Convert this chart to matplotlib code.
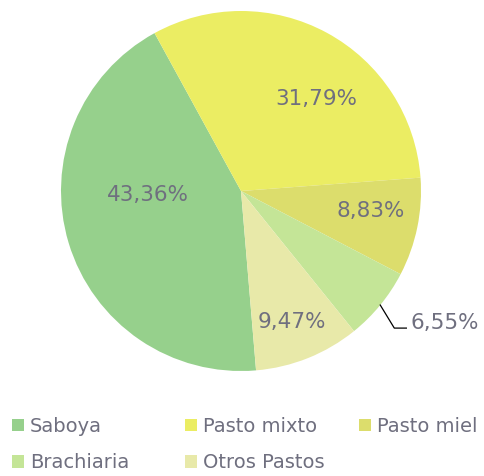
import matplotlib.pyplot as plt
import numpy as np

# datos del grafico
categorias = ["Saboya", "Pasto mixto", "Pasto miel", "Brachiaria", "Otros Pastos"]
porcentajes = [43.36, 31.79, 8.83, 6.55, 9.47]
colores = ["#96d08c", "#ebed63", "#dcdd6c", "#c4e597", "#e8e9a9"]

plt.rcParams['font.family'] = ['DejaVu Sans']
gris = "#6f6f7f"

fig = plt.figure(figsize=(4.85, 4.76), dpi=100)
# ejes cuadrados: centro (241,191) px, radio 180 px
ax = fig.add_axes([61 / 485, (476 - 191 - 180) / 476, 360 / 485, 360 / 476])

wedges, _ = ax.pie(porcentajes, colors=colores, startangle=-85.2, counterclock=False,
                   radius=1, wedgeprops=dict(linewidth=0))
ax.set_xlim(-1, 1)
ax.set_ylim(-1, 1)
ax.set_aspect('equal')
ax.axis('off')

# ajuste de posicion de las etiquetas (radio, desplazamiento de angulo)
ajustes = [(0.52, -14), (0.66, -11), (0.73, 3), None, (0.78, -0.5)]

for w, p, aj in zip(wedges, porcentajes, ajustes):
    ang = (w.theta1 + w.theta2) / 2
    txt = f"{p:.2f}%".replace(".", ",")
    if aj is None:
        # etiqueta fuera con linea guia
        a = np.deg2rad(ang)
        x0, y0 = np.cos(a), np.sin(a)
        x1, y1 = x0 + 0.078, y0 - 0.128
        x2 = x1 + 0.067
        ax.plot([x0, x1, x2], [y0, y1, y1], color="black", lw=0.9, clip_on=False)
        ax.text(x2 + 0.025, y1 + 0.028, txt, ha="left", va="center", fontsize=15.5,
                color=gris)
    else:
        r, d = aj
        a = np.deg2rad(ang + d)
        ax.text(r * np.cos(a), r * np.sin(a), txt, ha="center", va="center",
                fontsize=15.5, color=gris)

# leyenda abajo, por filas: tres columnas separadas
columnas = [[0, 3], [1, 4], [2]]
x_col = [12, 185, 359]
for idx, xc in zip(columnas, x_col):
    fig.legend([wedges[i] for i in idx], [categorias[i] for i in idx],
               loc="upper left", bbox_to_anchor=(xc / 485, 1 - 417 / 476),
               frameon=False, fontsize=14, labelcolor=gris,
               handlelength=0.62, handleheight=0.62, handletextpad=0.3,
               borderpad=0, borderaxespad=0, labelspacing=0.9)

fig.savefig("out.png", dpi=100)
